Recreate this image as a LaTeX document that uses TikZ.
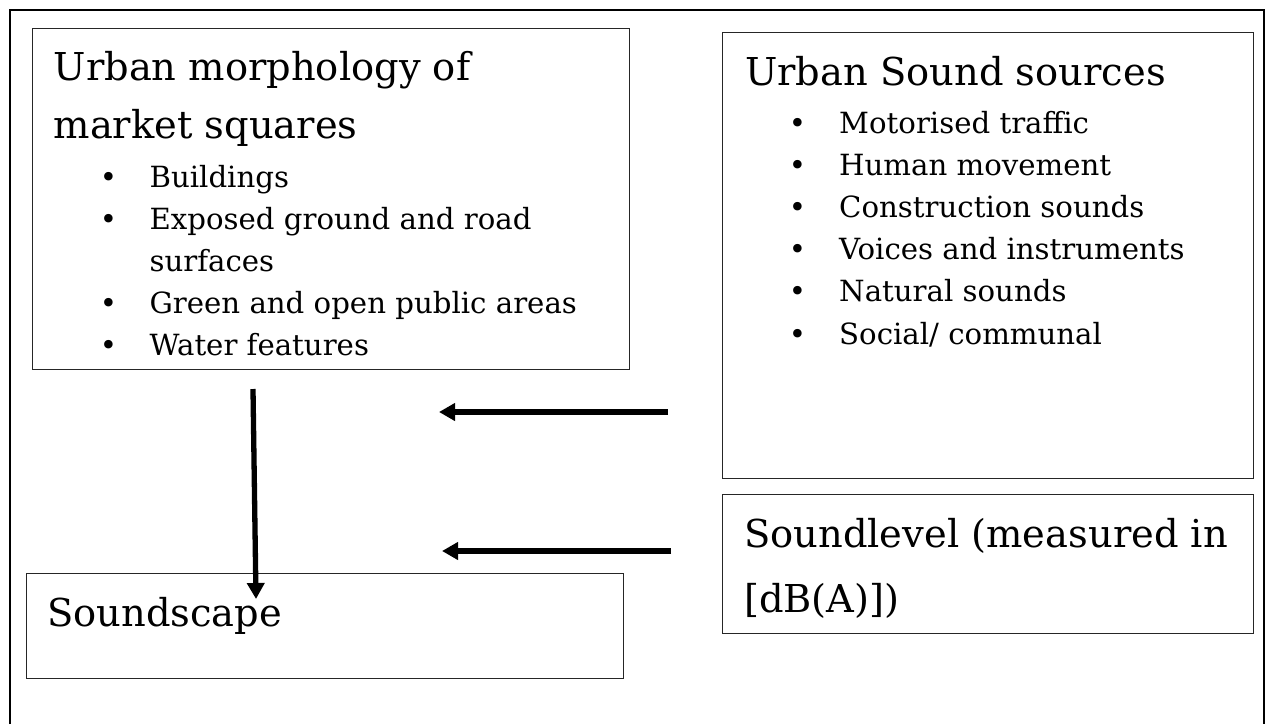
\documentclass[tikz,border=0pt]{standalone}
\usepackage{fontspec}
\setmainfont{DejaVu Serif}
\usetikzlibrary{arrows.meta}
\begin{document}
\begin{tikzpicture}[x=1pt,y=-1pt,
  box/.style={draw=black!85, line width=1.4pt, inner sep=0, anchor=north west},
  ttl/.style={anchor=base west, inner sep=0, font=\fontsize{38.4}{46}\selectfont},
  itm/.style={anchor=base west, inner sep=0, font=\fontsize{29.2}{35}\selectfont},
  bul/.style={anchor=base, inner sep=0, font=\fontsize{29.2}{35}\selectfont},
  arr/.style={line width=5.3pt, -{Triangle[length=16pt,width=17pt]}}]
\useasboundingbox (0,0) rectangle (1266,724);
\fill[white] (0,0) rectangle (1266,724);
\draw[line width=2pt] (10,724) -- (10,10) -- (1264,10) -- (1264,724);

% boxes
\node[box, minimum width=597pt, minimum height=341pt] (morph) at (32,28) {};
\node[box, minimum width=531pt, minimum height=446pt] (sources) at (722,32) {};
\node[box, minimum width=531pt, minimum height=139pt] (level) at (722,494) {};
\node[box, minimum width=597pt, minimum height=105pt] (scape) at (26,573) {};

% morphology text
\node[ttl] (m1) at (53.5,80) {Urban morphology of};
\node[ttl] (m2) at (53.5,138) {market squares};
\node[bul] (mb1) at (108.6,187) {•};
\node[itm] (mi1) at (149.4,187) {Buildings};
\node[bul] (mb2) at (108.6,229) {•};
\node[itm] (mi2) at (149.4,229) {Exposed ground and road};
\node[itm] (mi2b) at (149.4,271) {surfaces};
\node[bul] (mb3) at (108.6,313) {•};
\node[itm] (mi3) at (149.4,313) {Green and open public areas};
\node[bul] (mb4) at (108.6,355) {•};
\node[itm] (mi4) at (149.4,355) {Water features};

% sources text
\node[ttl] (s1) at (745,85) {Urban Sound sources};
\node[bul] (sb1) at (797.5,133) {•};
\node[itm] (si1) at (839,133) {Motorised traffic};
\node[bul] (sb2) at (797.5,175) {•};
\node[itm] (si2) at (839,175) {Human movement};
\node[bul] (sb3) at (797.5,217) {•};
\node[itm] (si3) at (839,217) {Construction sounds};
\node[bul] (sb4) at (797.5,259) {•};
\node[itm] (si4) at (839,259) {Voices and instruments};
\node[bul] (sb5) at (797.5,301.5) {•};
\node[itm] (si5) at (839,301.5) {Natural sounds};
\node[bul] (sb6) at (797.5,344) {•};
\node[itm] (si6) at (839,344) {Social/ communal};

% level text
\node[ttl] (l1) at (744,547) {Soundlevel (measured in};
\node[ttl] (l2) at (744,612) {[dB(A)])};

% soundscape text
\node[ttl] (c1) at (47,626) {Soundscape};

% arrows
\coordinate (a1s) at (668,412);
\coordinate (a1e) at (439,412);
\coordinate (a2s) at (671,551);
\coordinate (a2e) at (442,551);
\coordinate (a3s) at (253,389);
\coordinate (a3e) at (256,599);
\draw[arr] (a1s) -- (a1e);
\draw[arr] (a2s) -- (a2e);
\draw[arr] (a3s) -- (a3e);
\end{tikzpicture}
\end{document}
